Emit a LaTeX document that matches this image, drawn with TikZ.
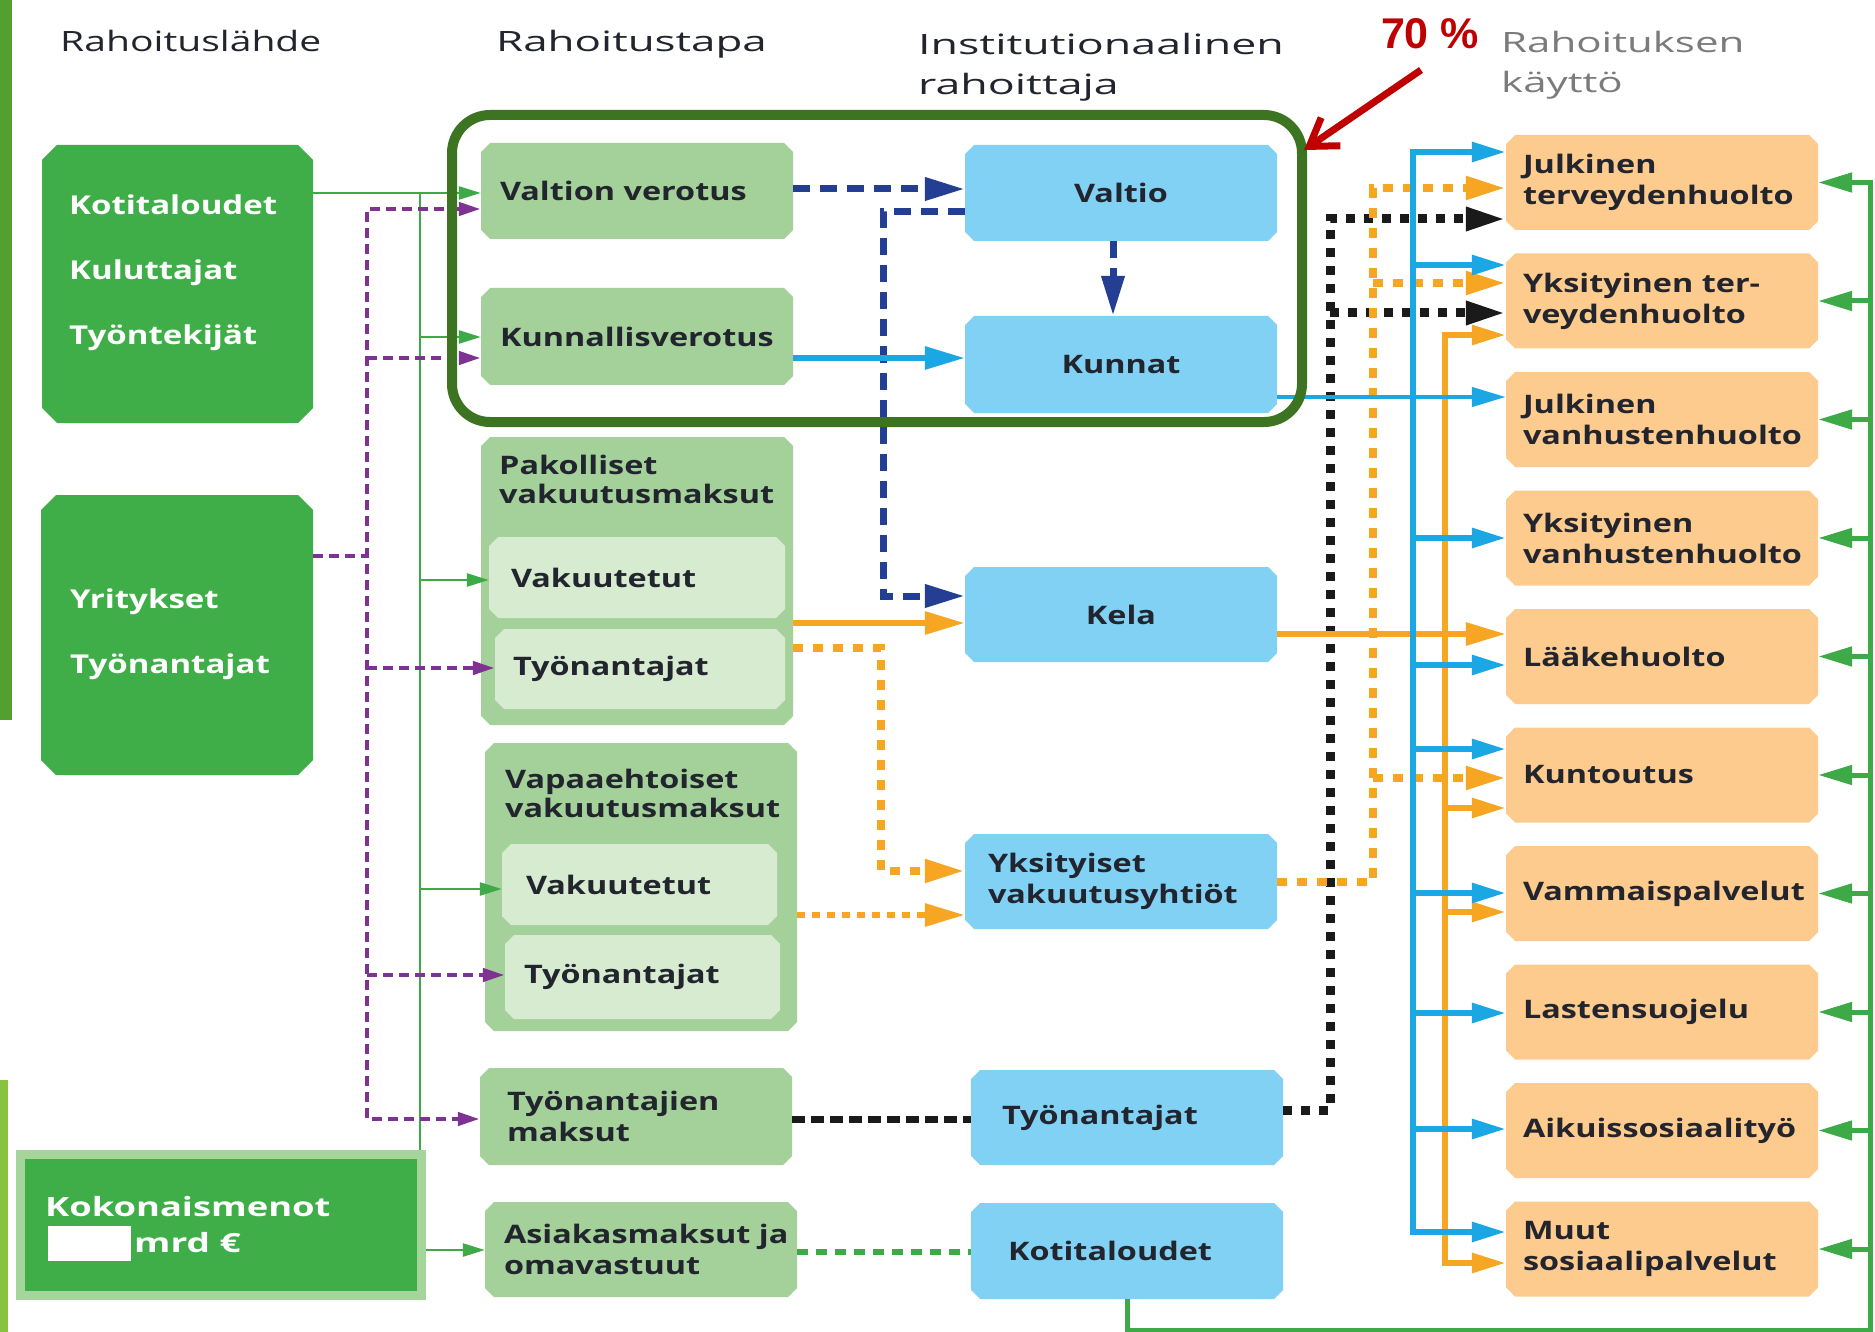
\documentclass[tikz,border=0pt]{standalone}
\usepackage{fontspec}
\usepackage{graphicx}
\setmainfont{Open Sans}[FakeStretch=1.27]
\newfontfamily\hdrfont{Open Sans}[FakeStretch=1.5]
\newfontfamily\pctfont{Liberation Sans}
\usetikzlibrary{arrows.meta}
\definecolor{dkgreenc}{HTML}{3FAE49}
\definecolor{lgreenc}{HTML}{A4D09A}
\definecolor{pgreenc}{HTML}{D7EBD1}
\definecolor{skybc}{HTML}{80D1F4}
\definecolor{oboxc}{HTML}{FCCB8D}
\definecolor{framec}{HTML}{3C7422}
\definecolor{purpc}{HTML}{7E3393}
\definecolor{dbluec}{HTML}{233E92}
\definecolor{bbluec}{HTML}{1AA7E4}
\definecolor{olinec}{HTML}{F6A623}
\definecolor{klinec}{HTML}{1A1A1A}
\definecolor{glinec}{HTML}{3DAA47}
\definecolor{redc}{HTML}{C00000}
\definecolor{txtc}{HTML}{22252E}
\definecolor{grayc}{HTML}{7B7B7B}
\definecolor{stripac}{HTML}{539F30}
\definecolor{stripbc}{HTML}{86C440}
\definecolor{cborderc}{HTML}{A6D59C}
\tikzset{
  BT/.tip={Triangle[length=40pt,width=22pt]},
  MT/.tip={Triangle[length=34pt,width=19pt]},
  ST/.tip={Triangle[length=22pt,width=13pt]},
  bxfont/.style={font=\fontsize{25.5}{31}\selectfont\bfseries},
  chb/.style 2 args={rectangle, fill=white, inner ysep=0pt,
    path picture={\fill[#1]
      ([xshift=#2]path picture bounding box.north west) --
      ([xshift=-#2]path picture bounding box.north east) --
      ([yshift=-#2]path picture bounding box.north east) --
      ([yshift=#2]path picture bounding box.south east) --
      ([xshift=-#2]path picture bounding box.south east) --
      ([xshift=#2]path picture bounding box.south west) --
      ([yshift=#2]path picture bounding box.south west) --
      ([yshift=-#2]path picture bounding box.north west) -- cycle;}},
  basebox/.style={text=txtc, bxfont, minimum height=96pt},
  lgbox/.style={chb={lgreenc}{9pt}, basebox, minimum width=312pt, text width=274pt, inner xsep=19pt, align=left},
  pbox/.style={chb={pgreenc}{9pt}, basebox, fill=lgreenc, minimum height=81pt, align=left},
  bbox/.style={chb={skybc}{9pt}, basebox, minimum width=312pt, text width=274pt, inner xsep=19pt},
  obox/.style={chb={oboxc}{9pt}, basebox, minimum width=312pt, minimum height=95pt, text width=278pt, inner xsep=17pt, align=left},
  gbigbox/.style={chb={dkgreenc}{15pt}, inner sep=0pt},
  wtxt/.style={font=\fontsize{26}{65}\selectfont\bfseries, text=white, inner sep=0pt, align=left},
  ttl/.style={font=\fontsize{25.5}{29}\selectfont\bfseries, text=txtc, inner sep=0pt, align=left},
  hdr/.style={font=\hdrfont\fontsize{28}{40}\selectfont, text=txtc, inner sep=0pt},
  pdash/.style={draw=purpc, line width=4.5pt, dash pattern=on 10pt off 6pt},
  dbdash/.style={draw=dbluec, line width=7pt, dash pattern=on 17pt off 10pt},
  odash/.style={draw=olinec, line width=8pt, dash pattern=on 10pt off 10pt},
  kdash/.style={draw=klinec, line width=9pt, dash pattern=on 9pt off 9pt},
  gdash/.style={draw=glinec, line width=6pt, dash pattern=on 11pt off 8pt},
  bline/.style={draw=bbluec, line width=6pt},
  oline/.style={draw=olinec, line width=6pt},
  gline/.style={draw=glinec, line width=5pt},
  tgline/.style={draw=glinec, line width=2.5pt},
}
\begin{document}
\begin{tikzpicture}[x=1pt,y=-1pt]
\useasboundingbox (0,0) rectangle (1875,1332);
\fill[white] (0,0) rectangle (1875,1332);
\fill[stripac] (0,0) rectangle (12,720);
\fill[stripbc] (0,1080) rectangle (8,1332);

% headers
\node[hdr, anchor=base west] (h1) at (60,52) {\scalebox{0.93}[1]{Rahoituslähde}};
\node[hdr, anchor=base west] (h2) at (496,52) {\scalebox{1.045}[1]{Rahoitustapa}};
\node[hdr, anchor=base west] (h3a) at (918,55) {\scalebox{1.065}[1]{Institutionaalinen}};
\node[hdr, anchor=base west] (h3b) at (918,95) {\scalebox{1.065}[1]{rahoittaja}};
\node[hdr, anchor=base west, text=grayc] (h4a) at (1501,53) {Rahoituksen};
\node[hdr, anchor=base west, text=grayc] (h4b) at (1501,93) {käyttö};
\node[font=\pctfont\bfseries\fontsize{43}{43}\selectfont, text=redc, inner sep=0pt] (pct) at (1430,34) {70 \%};

% left column
\node[gbigbox, minimum width=271pt, minimum height=278pt] (BA) at (177.5,284) {};
\node[wtxt, anchor=west] (BAt) at (69,273) {Kotitaloudet\\Kuluttajat\\Työntekijät};
\node[gbigbox, minimum width=272pt, minimum height=280pt] (BB) at (177,635) {};
\node[wtxt, anchor=west] (BBt) at (70,634) {Yritykset\\Työnantajat};
\node[rectangle, fill=dkgreenc, draw=cborderc, line width=9pt, minimum width=401pt, minimum height=141pt, inner sep=0pt] (BC) at (221,1225) {};
\node[wtxt, anchor=west, font=\fontsize{26.5}{40}\selectfont\bfseries] (kok) at (45,1207) {\scalebox{1.08}[1]{Kokonaismenot}};
\fill[white] (48,1226) rectangle (131,1261);
\node[wtxt, anchor=west, font=\fontsize{26.5}{40}\selectfont\bfseries] (mrd) at (134,1243) {\scalebox{1.1}[1]{mrd €}};

% light green column
\node[lgbox] (LG1) at (637,191) {Valtion verotus};
\node[lgbox, minimum height=97pt] (LG2) at (637,336.5) {Kunnallisverotus};
\node[lgbox, minimum height=288pt] (LG3) at (637,581) {};
\node[ttl, anchor=west] (LG3t) at (499,479) {Pakolliset\\vakuutusmaksut};
\node[pbox, minimum width=274pt, text width=252pt, inner xsep=22pt] (P1) at (637,577.5) {Vakuutetut};
\node[pbox, minimum width=272pt, text width=254pt, inner xsep=18pt, minimum height=80pt] (P2) at (640,669) {Työnantajat};
\node[lgbox, minimum height=288pt] (LG4) at (641,887) {};
\node[ttl, anchor=west] (LG4t) at (505,793) {Vapaaehtoiset\\vakuutusmaksut};
\node[pbox, minimum width=275pt, text width=227pt, inner xsep=24pt] (V1) at (639.5,884.5) {Vakuutetut};
\node[pbox, minimum width=275pt, text width=237pt, inner xsep=19pt, minimum height=84pt] (V2) at (642.5,977) {Työnantajat};
\node[lgbox, minimum height=97pt, text width=258pt, inner xsep=27pt] (LG5) at (636,1116.5) {Työnantajien\\maksut};
\node[lgbox, minimum height=95pt] (LG6) at (641,1249.5) {Asiakasmaksut~ja\\omavastuut};

% blue column
\node[bbox, align=center] (B1) at (1121,193) {Valtio};
\node[bbox, align=center, minimum height=97pt] (B2) at (1121,364.5) {Kunnat};
\node[bbox, align=center, minimum height=95pt] (B3) at (1121,614.5) {Kela};
\node[bbox, align=left, minimum height=95pt, text width=266pt, inner xsep=23pt] (B4) at (1121,881.5) {Yksityiset\\vakuutusyhtiöt};
\node[bbox, align=left, minimum height=95pt, text width=250pt, inner xsep=31pt] (B5) at (1127,1117.5) {Työnantajat};
\node[bbox, align=left, text width=238pt, inner xsep=37pt] (B6) at (1127,1251) {Kotitaloudet};

% orange column
\node[obox] (O1) at (1662,182.5) {Julkinen\\terveydenhuolto};
\node[obox] (O2) at (1662,301) {Yksityinen ter-\\veydenhuolto};
\node[obox] (O3) at (1662,419.5) {Julkinen\\vanhustenhuolto};
\node[obox] (O4) at (1662,538) {Yksityinen\\vanhustenhuolto};
\node[obox] (O5) at (1662,656.5) {Lääkehuolto};
\node[obox] (O6) at (1662,775) {Kuntoutus};
\node[obox] (O7) at (1662,893.5) {Vammaispalvelut};
\node[obox] (O8) at (1662,1012) {Lastensuojelu};
\node[obox] (O9) at (1662,1130.5) {Aikuissosiaalityö};
\node[obox] (O10) at (1662,1249) {Muut\\sosiaalipalvelut};

% coordinates
\coordinate (gl) at (420,193);
\coordinate (pt) at (367,209);
\coordinate (pb) at (367,1119);
\coordinate (dv1) at (883,212);
\coordinate (dv2) at (883,596);
\coordinate (ov1) at (881,648);
\coordinate (ov2) at (881,871);
\coordinate (kt) at (1330,219);
\coordinate (kb) at (1330,1110);
\coordinate (odt) at (1373,188);
\coordinate (odb) at (1373,882);
\coordinate (ot) at (1445,335);
\coordinate (ob) at (1445,1263);
\coordinate (bt) at (1413,152);
\coordinate (bb) at (1413,1232);
\coordinate (gt) at (1870,182.5);
\coordinate (gb) at (1870,1330);
\coordinate (rstart) at (1421,70);
\coordinate (rtip) at (1304,150);

% thin green
\draw[tgline, -{ST}] (BA.east |- gl) -- (LG1.west |- gl);
\draw[tgline] (gl) -- (gl |- BC.north);
\draw[tgline, -{ST}] (gl |- 0,337) -- (LG2.west |- 0,337);
\draw[tgline, -{ST}] (gl |- 0,580) -- (P1.west |- 0,580);
\draw[tgline, -{ST}] (gl |- 0,889) -- (V1.west |- 0,889);
\draw[tgline, -{ST}] (BC.east |- 0,1250) -- (LG6.west |- 0,1250);

% purple
\draw[pdash] (BB.east |- 0,556) -- (pt |- 0,556);
\draw[pdash, {ST}-{ST}] (LG1.west |- pt) -- (pt) -- (pb) -- (LG5.west |- pb);
\draw[pdash, -{ST}] (pt |- 0,358) -- (LG2.west |- 0,358);
\draw[pdash, -{ST}] (pt |- 0,668) -- (P2.west |- 0,668);
\draw[pdash, -{ST}] (pt |- 0,975) -- (V2.west |- 0,975);

% dark blue
\draw[dbdash, -{BT}] (LG1.east |- 0,189) -- (B1.west |- 0,189);
\draw[dbdash, -{BT}] (B1.west |- dv1) -- (dv1) -- (dv2) -- (B3.west |- dv2);
\draw[dbdash, -{BT}] (1113,0 |- B1.south) -- (1113,0 |- B2.north);

% blue to Kunnat
\draw[bline, -{BT}] (LG2.east |- 0,358) -- (B2.west |- 0,358);

% orange from Pakolliset / Vapaaehtoiset
\draw[oline, -{BT}] (LG3.east |- 0,623) -- (B3.west |- 0,623);
\draw[odash, -{BT}] (LG3.east |- ov1) -- (ov1) -- (ov2) -- (B4.west |- ov2);
\draw[odash, line width=6pt, dash pattern=on 8pt off 7pt, -{BT}] (LG4.east |- 0,915) -- (B4.west |- 0,915);

% black / green dashed into blue
\draw[kdash, line width=7pt, dash pattern=on 13pt off 6pt] (LG5.east |- pb) -- (B5.west |- pb);
\draw[gdash] (LG6.east |- 0,1252) -- (B6.west |- 0,1252);

% black tree
\draw[kdash, -{BT}] (B5.east |- kb) -- (kb) -- (kt) -- (O1.west |- kt);
\draw[kdash, -{BT}] (kt |- 0,313) -- (O2.west |- 0,313);

% orange dashed tree
\draw[odash, -{BT}] (B4.east |- odb) -- (odb) -- (odt) -- (O1.west |- odt);
\draw[odash, -{BT}] (odt |- 0,283) -- (O2.west |- 0,283);
\draw[odash, -{BT}] (odt |- 0,778) -- (O6.west |- 0,778);

% orange solid tree
\draw[oline, {MT}-{MT}] (O2.west |- ot) -- (ot) -- (ob) -- (O10.west |- ob);
\draw[oline, -{BT}] (B3.east |- 0,634) -- (O5.west |- 0,634);
\draw[oline, -{MT}] (ot |- 0,808) -- (O6.west |- 0,808);
\draw[oline, -{MT}] (ot |- 0,912) -- (O7.west |- 0,912);

% blue tree
\draw[bline, line width=4.5pt, -{MT}] (B2.east |- 0,397) -- (O3.west |- 0,397);
\draw[bline, {MT}-{MT}] (O1.west |- bt) -- (bt) -- (bb) -- (O10.west |- bb);
\draw[bline, -{MT}] (bt |- 0,265) -- (O2.west |- 0,265);
\draw[bline, -{MT}] (bt |- 0,538) -- (O4.west |- 0,538);
\draw[bline, -{MT}] (bt |- 0,665) -- (O5.west |- 0,665);
\draw[bline, -{MT}] (bt |- 0,749) -- (O6.west |- 0,749);
\draw[bline, -{MT}] (bt |- 0,893) -- (O7.west |- 0,893);
\draw[bline, -{MT}] (bt |- 0,1013) -- (O8.west |- 0,1013);
\draw[bline, -{MT}] (bt |- 0,1129) -- (O9.west |- 0,1129);

% green right tree
\draw[gline, -{MT}] (B6.south) -- (B6.south |- gb) -- (gb) -- (gt) -- (O1.east);
\foreach \n in {O2,O3,O4,O5,O6,O7,O8,O9,O10}
  \draw[gline, -{MT}] (gt |- \n.east) -- (\n.east);

% frame (on top of the connectors)
\node[draw=framec, line width=10pt, rounded corners=38pt, minimum width=850pt, minimum height=307pt, inner sep=0pt] (frame) at (877,268.5) {};

% red arrow
\draw[draw=redc, line width=7pt, -{Straight Barb[length=26pt,width=34pt,line width=7pt]}] (rstart) -- (rtip);
\end{tikzpicture}
\end{document}
